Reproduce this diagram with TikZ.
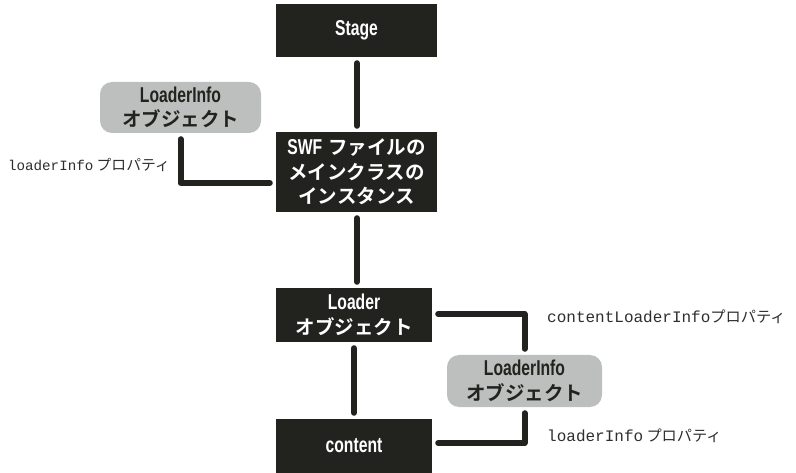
\documentclass[tikz,border=0pt]{standalone}
\usepackage{fontspec}
\usetikzlibrary{calc}
\newfontfamily\latb[FakeStretch=0.73]{Liberation Sans Bold}
\newfontfamily\jpb{Noto Sans CJK JP Bold}
\newfontfamily\monof{Liberation Mono}
\newfontfamily\jpr{Noto Sans CJK JP}
\definecolor{boxdark}{HTML}{22231F}
\definecolor{boxgray}{HTML}{BDBFBE}
\definecolor{labtext}{HTML}{2E2E2E}
\newcommand\lat[1]{{\latb\fontsize{21.5}{24.5}\selectfont #1}}
\newcommand\jp[1]{{\jpb\fontsize{19.5}{24.5}\selectfont #1}}
\tikzset{
  boxfont/.style={font={\fontsize{19}{24.5}\selectfont}},
  darkbox/.style={boxfont, fill=boxdark, text=white, align=center, inner sep=0pt,
    minimum width=161pt, minimum height=53pt},
  graybox/.style={boxfont, fill=boxgray, text=boxdark, align=center, inner sep=0pt,
    rounded corners=12pt, minimum width=160pt, minimum height=52pt},
  link/.style={draw=boxdark, line width=6pt, line cap=round, line join=round,
    shorten <=6pt, shorten >=6pt},
  proplabel/.style={text=labtext, inner sep=0pt}
}
\begin{document}
\begin{tikzpicture}[x=1pt, y=-1pt]
  \useasboundingbox (0,0) rectangle (796,473);

  % main chain
  \node[darkbox] (stage) at (356.5,30.5) {\lat{Stage}};
  \node[darkbox, minimum height=80pt] (swf) at (356.5,172)
    {\lat{SWF} \jp{ファイルの}\\\jp{メインクラスの}\\\jp{インスタンス}};
  \node[darkbox, minimum width=156pt, minimum height=54pt] (loader) at (354,315)
    {\lat{Loader}\\\jp{オブジェクト}};
  \node[darkbox, minimum width=156pt, minimum height=54pt] (content) at (354,446)
    {\lat{content}};

  % LoaderInfo objects
  \node[graybox, minimum width=161pt, minimum height=51pt] (info1) at (180.5,107.5)
    {\lat{LoaderInfo}\\\jp{オブジェクト}};
  \node[graybox, minimum width=155pt] (info2) at (524.5,381)
    {\lat{LoaderInfo}\\\jp{オブジェクト}};

  % property labels
  \node[proplabel, anchor=east] (lab1) at (170,165)
    {{\monof\fontsize{14.2}{16}\selectfont loaderInfo} {\jpr\fontsize{14.8}{16}\selectfont プロパティ}};
  \node[proplabel, anchor=west] (lab2) at (547,317)
    {{\monof\fontsize{16}{18}\selectfont contentLoaderInfo}{\jpr\fontsize{15.2}{18}\selectfont プロパティ}};
  \node[proplabel, anchor=west] (lab3) at (547,436)
    {{\monof\fontsize{16}{18}\selectfont loaderInfo} {\jpr\fontsize{15.2}{18}\selectfont プロパティ}};

  % connectors
  \draw[link] (stage.south -| 357,0) -- (swf.north -| 357,0);
  \draw[link] (swf.south -| 357,0) -- (loader.north -| 357,0);
  \draw[link] (loader.south) -- (content.north);
  \draw[link] (info1.south) |- ($(swf.west)+(0,11)$);
  \draw[link] ($(loader.east)+(0,-1)$) -| (info2.north);
  \draw[link] (info2.south) |- ($(content.east)+(0,-3)$);
\end{tikzpicture}
\end{document}
